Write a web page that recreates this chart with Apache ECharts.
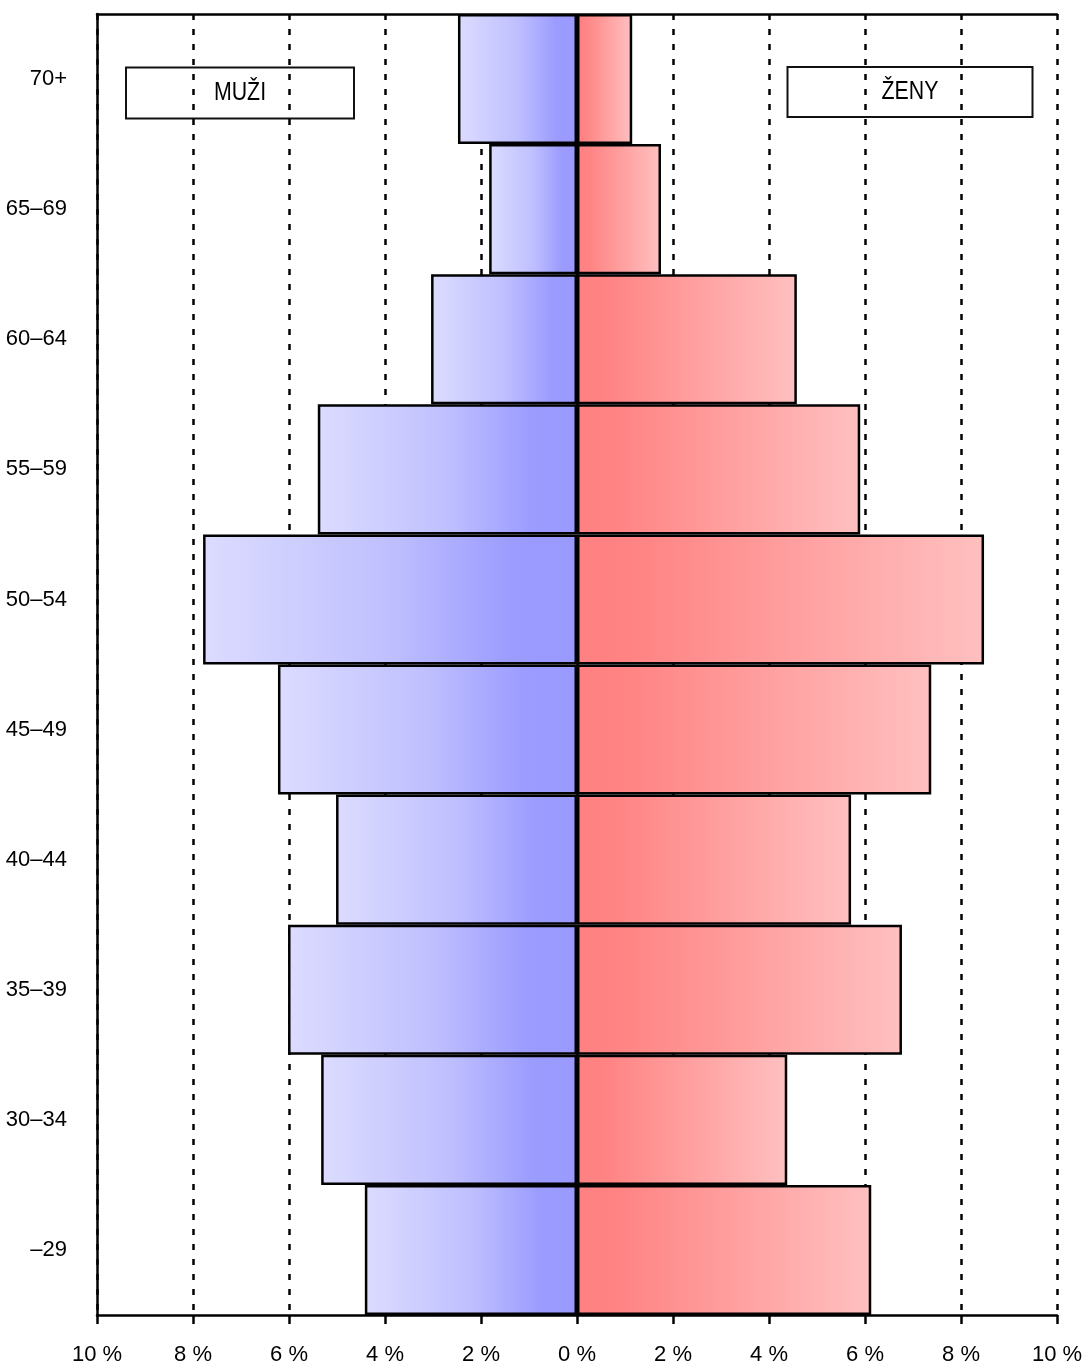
<!DOCTYPE html>
<html>
<head>
<meta charset="utf-8">
<script src="https://cdn.jsdelivr.net/npm/echarts@6/dist/echarts.min.js"></script>
<style>html,body{margin:0;padding:0;background:#fff}#c{width:1085px;height:1369px}</style>
</head>
<body>
<div id="c"></div>
<script>
var categories = ['–29','30–34','35–39','40–44','45–49','50–54','55–59','60–64','65–69','70+'];
var muzi = [4.42, 5.33, 6.02, 5.02, 6.23, 7.79, 5.40, 3.04, 1.83, 2.48];
var zeny = [6.13, 4.38, 6.77, 5.71, 7.38, 8.48, 5.90, 4.58, 1.75, 1.15];
var xTicks = [-10, -8, -6, -4, -2, 0, 2, 4, 6, 8, 10];

var FONT = '"Liberation Sans", Arial, sans-serif';
var chart = echarts.init(document.getElementById('c'), null, {renderer: 'canvas'});

var maleGrad = new echarts.graphic.LinearGradient(0, 0, 1, 0, [
  {offset: 0, color: '#dcdcff'},
  {offset: 0.5, color: '#bfbfff'},
  {offset: 0.82, color: '#9c9cff'},
  {offset: 1, color: '#9999ff'}
]);
var femaleGrad = new echarts.graphic.LinearGradient(0, 0, 1, 0, [
  {offset: 0, color: '#ff8080'},
  {offset: 0.15, color: '#ff8484'},
  {offset: 1, color: '#ffc0c0'}
]);

function box(cx, cy, w, h, text) {
  return {
    type: 'group', x: cx - w / 2, y: cy - h / 2, z: 100,
    children: [
      {type: 'rect', shape: {x: 0, y: 0, width: w, height: h},
       style: {fill: '#fff', stroke: '#111', lineWidth: 2}},
      {type: 'text', x: w / 2, y: h / 2, scaleX: 0.82,
       style: {text: text, fill: '#000', font: '26px ' + FONT, align: 'center', verticalAlign: 'middle'}}
    ]
  };
}

chart.setOption({
  animation: false,
  backgroundColor: '#fff',
  grid: {left: 97, right: 28, top: 14, bottom: 54, containLabel: false, outerBoundsMode: 'none'},
  xAxis: [{
    type: 'value', min: -10, max: 10, interval: 2,
    axisLine: {show: true, onZero: false, lineStyle: {color: '#000', width: 2.5}},
    axisTick: {show: true, length: 9, lineStyle: {color: '#000', width: 2.5}},
    axisLabel: {
      margin: 29, color: '#000', fontSize: 22, fontFamily: FONT,
      formatter: function (v) { return Math.abs(v) + ' %'; }
    },
    splitLine: {show: true, lineStyle: {color: '#000', width: 2.5, type: [6, 9]}}
  }, {
    type: 'value', position: 'top', min: -10, max: 10, interval: 2,
    axisLine: {show: true, onZero: false, lineStyle: {color: '#000', width: 2.5}},
    axisTick: {show: false}, axisLabel: {show: false}, splitLine: {show: false}
  }],
  yAxis: {
    type: 'category', data: categories,
    axisLine: {show: true, onZero: false, lineStyle: {color: '#000', width: 2.5}},
    axisTick: {show: false},
    axisLabel: {margin: 30, color: '#000', fontSize: 22, fontFamily: FONT},
    splitLine: {show: false}
  },
  series: [{
    name: 'MUŽI', type: 'bar', stack: 'p', barCategoryGap: 0,
    data: muzi.map(function (v) { return -v; }),
    itemStyle: {color: maleGrad, borderColor: '#000', borderWidth: 2.5}
  }, {
    name: 'ŽENY', type: 'bar', stack: 'p', barCategoryGap: 0,
    data: zeny,
    itemStyle: {color: femaleGrad, borderColor: '#000', borderWidth: 2.5}
  }],
  graphic: [
    box(240, 93, 228, 51, 'MUŽI'),
    box(910, 92, 245, 50, 'ŽENY'),
    box(580, 727, 229, 59, 'lékaři')
  ]
});
</script>
</body>
</html>
